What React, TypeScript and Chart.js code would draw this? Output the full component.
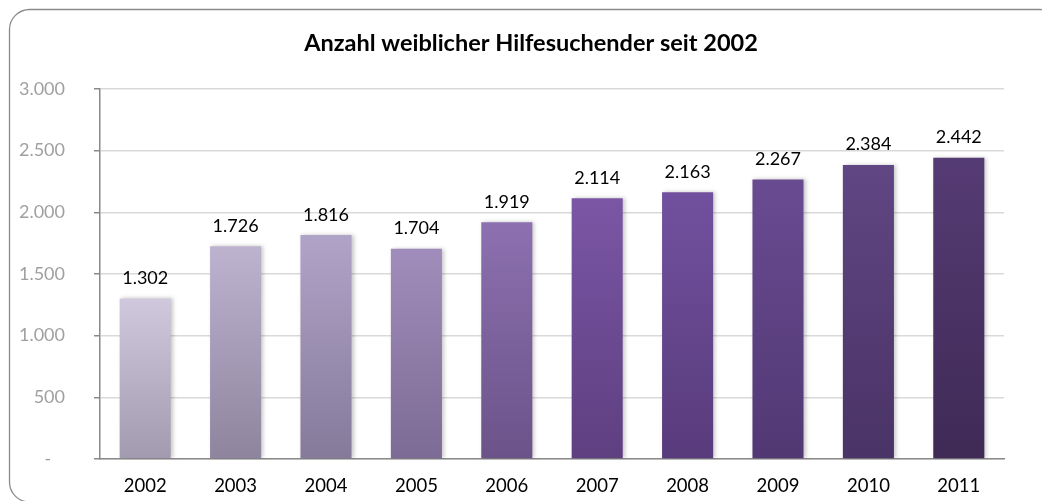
import React, { useEffect, useRef } from "react";
import { Chart, registerables } from "chart.js";

Chart.register(...registerables);

const chartTitle = "Anzahl weiblicher Hilfesuchender seit 2002";
const years = ["2002", "2003", "2004", "2005", "2006", "2007", "2008", "2009", "2010", "2011"];
const counts = [1302, 1726, 1816, 1704, 1919, 2114, 2163, 2267, 2384, 2442];
const yMax = 3000;
const yStep = 500;

const topColors = ["#d0c9dd", "#bdb3cf", "#b0a3c8", "#a18dbb", "#8c70b0", "#7b56a5", "#71519f", "#694b92", "#604683", "#553b73"];
const bottomColors = ["#a29aae", "#8e849e", "#857a9a", "#7c6b94", "#6b5389", "#5e3f80", "#583b7b", "#513873", "#4a3366", "#3f2a56"];

const FONT = "Lato, 'Open Sans', sans-serif";

function fmt(v: number): string {
  return String(Math.round(v)).replace(/\B(?=(\d{3})+(?!\d))/g, ".");
}

const framePlugin = {
  id: "frame",
  beforeDraw(chart: any) {
    const ctx = chart.ctx;
    ctx.save();
    ctx.fillStyle = "#ffffff";
    ctx.fillRect(0, 0, chart.width, chart.height);
    const x = 9.5, y = 9.5, w = 1050, h = 492.5, r = 20;
    ctx.beginPath();
    ctx.moveTo(x + r, y);
    ctx.lineTo(x + w - r, y);
    ctx.arcTo(x + w, y, x + w, y + r, r);
    ctx.lineTo(x + w, y + h - r);
    ctx.arcTo(x + w, y + h, x + w - r, y + h, r);
    ctx.lineTo(x + r, y + h);
    ctx.arcTo(x, y + h, x, y + h - r, r);
    ctx.lineTo(x, y + r);
    ctx.arcTo(x, y, x + r, y, r);
    ctx.closePath();
    ctx.strokeStyle = "#8a8a8a";
    ctx.lineWidth = 1.3;
    ctx.stroke();
    ctx.restore();
  },
  afterDraw(chart: any) {
    const ctx = chart.ctx;
    ctx.save();
    ctx.font = `bold 23.5px ${FONT}`;
    ctx.fillStyle = "#000000";
    ctx.textAlign = "center";
    ctx.textBaseline = "alphabetic";
    ctx.fillText(chartTitle, 531, 51);
    ctx.restore();
  },
};

const shadowPlugin = {
  id: "barShadow",
  beforeDatasetsDraw(chart: any) {
    const ctx = chart.ctx;
    ctx.save();
    ctx.shadowColor = "rgba(0,0,0,0.22)";
    ctx.shadowBlur = 4;
    ctx.shadowOffsetX = 2;
    ctx.shadowOffsetY = 0;
  },
  afterDatasetsDraw(chart: any) {
    const ctx = chart.ctx;
    ctx.restore();
    ctx.save();
    ctx.font = `18px ${FONT}`;
    ctx.fillStyle = "#000000";
    ctx.textAlign = "center";
    ctx.textBaseline = "alphabetic";
    const meta = chart.getDatasetMeta(0);
    meta.data.forEach((el: any, i: number) => {
      ctx.fillText(fmt(counts[i]), el.x, el.y - 14.5);
    });
    ctx.restore();
  },
};

export default function App() {
  const ref = useRef<HTMLCanvasElement | null>(null);

  useEffect(() => {
    if (!ref.current) return;
    const chart = new Chart(ref.current, {
      type: "bar",
      data: {
        labels: years,
        datasets: [
          {
            data: counts,
            backgroundColor: (c: any) => {
              const ch = c.chart;
              const i = c.dataIndex ?? 0;
              const ys = ch.scales && ch.scales.y;
              if (!ys || !ch.chartArea || c.raw == null) return topColors[i];
              const top = ys.getPixelForValue(c.raw);
              const bottom = ys.getPixelForValue(0);
              if (!isFinite(top) || !isFinite(bottom) || top === bottom) return topColors[i];
              const g = ch.ctx.createLinearGradient(0, top, 0, bottom);
              g.addColorStop(0, topColors[i]);
              g.addColorStop(1, bottomColors[i]);
              return g;
            },
            borderWidth: 0,
            barPercentage: 0.565,
            categoryPercentage: 1,
          },
        ],
      },
      options: {
        responsive: false,
        animation: false,
        devicePixelRatio: 1,
        layout: { padding: { top: 89, right: 38, bottom: 0, left: 0 } },
        plugins: {
          legend: { display: false },
          title: { display: false },
          tooltip: { enabled: false },
        },
        scales: {
          x: {
            grid: { display: false, drawTicks: false },
            border: { display: true, color: "#8a8a8a", width: 1.5 },
            ticks: {
              color: "#000000",
              font: { family: FONT, size: 18.5 },
              padding: 16,
              maxRotation: 0,
            },
            afterFit: (s: any) => {
              s.height = 42;
            },
          },
          y: {
            min: 0,
            max: yMax,
            grid: {
              color: "#d9d9d9",
              lineWidth: 1.5,
              drawTicks: true,
              tickLength: 6,
              tickColor: "#8a8a8a",
            },
            border: { display: true, color: "#8a8a8a", width: 1.5 },
            ticks: {
              stepSize: yStep,
              color: "#a0a0a0",
              font: { family: FONT, size: 18 },
              padding: 29,
              callback: (v: any) => (Number(v) === 0 ? "-   " : fmt(Number(v))),
            },
            afterFit: (s: any) => {
              s.width = 100;
            },
          },
        },
      },
      plugins: [framePlugin, shadowPlugin],
    });
    return () => chart.destroy();
  }, []);

  return (
    <div style={{ position: "absolute", left: 0, top: 0, width: 1042, height: 501 }}>
      <canvas ref={ref} width={1042} height={501} style={{ display: "block", width: 1042, height: 501 }} />
    </div>
  );
}
